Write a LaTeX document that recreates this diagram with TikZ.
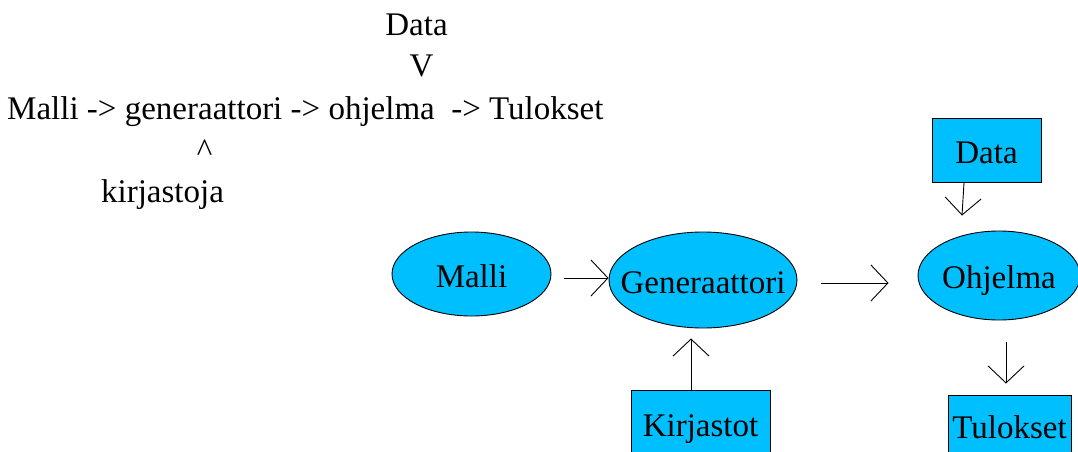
\documentclass[tikz,border=0pt]{standalone}
\usepackage{fontspec}
\setmainfont{Liberation Serif}
\usepackage{tikz}
\usetikzlibrary{arrows.meta,positioning,shapes.geometric,calc}

\definecolor{skyfill}{RGB}{0,191,255}

\begin{document}
\begin{tikzpicture}[
  x=1pt, y=-1pt,
  font=\fontsize{33}{40}\selectfont,
  txt/.style={inner sep=0pt},
  oval/.style={ellipse, draw, fill=skyfill, line width=0.9pt,
               inner xsep=-22pt, inner ysep=-6pt, text height=30pt, text depth=4pt},
  box/.style={rectangle, draw, fill=skyfill, line width=0.9pt,
              inner sep=0pt, text height=30pt, text depth=4pt},
  arr/.style={-{Straight Barb[length=17pt,width=36pt]}, line width=0.9pt}
]
\useasboundingbox (0,0) rectangle (1078,452);
\clip (0,0) rectangle (1078,452);

% plain text sketch
\node[txt, anchor=base] (tdata) at (416.5,36) {Data};
\node[txt, anchor=base] (tv) at (421.5,77) {V};
\node[txt, anchor=base west] (tline) at (7,119) {Malli -> generaattori -> ohjelma~ -> Tulokset};
\node[txt, anchor=base] (tcaret) at (204.5,161.5) {\textasciicircum};
\node[txt, anchor=base] (tkirj) at (162.5,202) {kirjastoja};

% drawn diagram
\node[oval, minimum width=159pt, minimum height=84pt] (malli) at (471.5,274) {Malli};
\node[oval, minimum width=188pt, minimum height=96pt] (gen) at (703,280) {Generaattori};
\node[oval, minimum width=162pt, minimum height=89pt] (ohj) at (999,275.5) {Ohjelma};
\node[box, minimum width=109pt, minimum height=64pt] (data) at (986.5,150) {Data};
\node[box, minimum width=123pt, minimum height=61pt] (tul) at (1009.5,425.5) {Tulokset};
\node[box, minimum width=139pt, minimum height=66pt] (kirj) at (700.5,423) {Kirjastot};

\draw[arr] ($(malli.east)+(13,4)$) -- ($(gen.west)+(0,-2)$);
\draw[arr] ($(gen.east)+(24,3)$) -- ($(ohj.west)+(-29,7.5)$);
\draw[arr] ($(data.south)+(-22.5,0)$) -- ($(ohj.north)+(-37,-15)$);
\draw[arr] ($(tul.north)+(-3.5,-53)$) -- ($(tul.north)+(-3.5,-11)$);
\draw[arr] ($(kirj.north)+(-9.5,0)$) -- ($(gen.south)+(-12,10)$);
\end{tikzpicture}
\end{document}
